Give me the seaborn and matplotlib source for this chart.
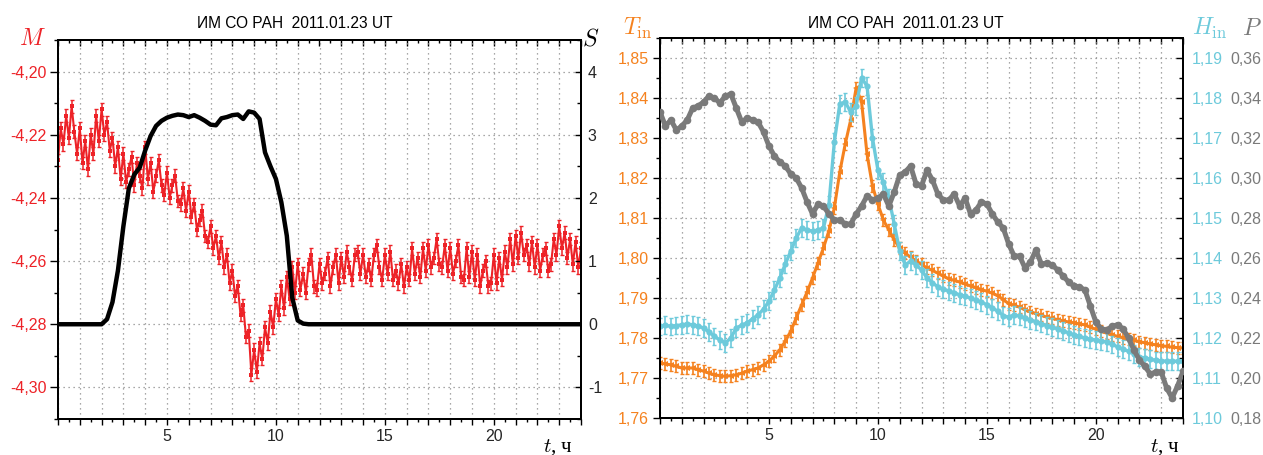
"""
Two panels, ИМ СО РАН 2011.01.23 UT:
left  - M (red, with error bars) and S (black) vs time,
right - T_in (orange), H_in (cyan) and P (gray) vs time.
Output: out.png
"""

import numpy as np
import matplotlib
matplotlib.use('Agg')
import matplotlib.pyplot as plt
from matplotlib.ticker import MultipleLocator, FuncFormatter
import seaborn as sns

# ── Colours ───────────────────────────────────────────────────
RED    = '#ED2227'
ORANGE = '#F5821F'
CYAN   = '#6DCADB'
GRAY   = '#7A7A7A'
GRID   = '#8C8C8C'

TITLE = 'ИМ СО РАН  2011.01.23 UT'

# ── Data ──────────────────────────────────────────────────────
# M sampled every 1/8 h, one row per hour
m_values = [
    -4.228, -4.218, -4.223, -4.214, -4.221, -4.211, -4.219, -4.226,
    -4.218, -4.229, -4.222, -4.231, -4.220, -4.226, -4.214, -4.222,
    -4.212, -4.220, -4.216, -4.225, -4.221, -4.230, -4.224, -4.234,
    -4.226, -4.235, -4.231, -4.227, -4.236, -4.229, -4.233, -4.237,
    -4.224, -4.234, -4.229, -4.238, -4.233, -4.228, -4.236, -4.239,
    -4.232, -4.240, -4.236, -4.233, -4.241, -4.242, -4.237, -4.244,
    -4.238, -4.246, -4.242, -4.250, -4.247, -4.244, -4.252, -4.254,
    -4.249, -4.256, -4.252, -4.259, -4.254, -4.262, -4.258, -4.267,
    -4.263, -4.271, -4.268, -4.277, -4.274, -4.284, -4.282, -4.296,
    -4.288, -4.295, -4.286, -4.291, -4.281, -4.286, -4.276, -4.281,
    -4.272, -4.277, -4.268, -4.275, -4.265, -4.272, -4.262, -4.270,
    -4.261, -4.269, -4.264, -4.270, -4.261, -4.258, -4.268, -4.269,
    -4.261, -4.267, -4.264, -4.259, -4.268, -4.262, -4.258, -4.267,
    -4.259, -4.265, -4.257, -4.262, -4.266, -4.258, -4.257, -4.264,
    -4.258, -4.265, -4.261, -4.266, -4.258, -4.255, -4.262, -4.266,
    -4.258, -4.264, -4.257, -4.266, -4.263, -4.267, -4.261, -4.268,
    -4.262, -4.266, -4.256, -4.264, -4.259, -4.265, -4.256, -4.263,
    -4.255, -4.262, -4.259, -4.253, -4.261, -4.262, -4.255, -4.263,
    -4.256, -4.264, -4.260, -4.255, -4.265, -4.266, -4.256, -4.265,
    -4.257, -4.266, -4.258, -4.268, -4.263, -4.260, -4.268, -4.267,
    -4.258, -4.267, -4.259, -4.266, -4.257, -4.262, -4.253, -4.261,
    -4.252, -4.259, -4.251, -4.258, -4.255, -4.261, -4.254, -4.262,
    -4.255, -4.263, -4.258, -4.256, -4.263, -4.261, -4.253, -4.258,
    -4.249, -4.256, -4.251, -4.259, -4.253, -4.261, -4.254, -4.262,
    -4.256,
]
m_err = 0.002

# the other series sampled every 1/4 h, one row per hour
s_values = [
    0.00, 0.00, 0.00, 0.00,
    0.00, 0.00, 0.00, 0.00,
    0.00, 0.08, 0.35, 0.85,
    1.55, 2.15, 2.37, 2.48,
    2.75, 2.98, 3.14, 3.22,
    3.27, 3.30, 3.32, 3.31,
    3.28, 3.31, 3.27, 3.22,
    3.16, 3.15, 3.26, 3.28,
    3.31, 3.32, 3.25, 3.37,
    3.35, 3.25, 2.72, 2.50,
    2.30, 1.93, 1.40, 0.42,
    0.06, 0.01, 0.00, 0.00,
    0.00, 0.00, 0.00, 0.00,
    0.00, 0.00, 0.00, 0.00,
    0.00, 0.00, 0.00, 0.00,
    0.00, 0.00, 0.00, 0.00,
    0.00, 0.00, 0.00, 0.00,
    0.00, 0.00, 0.00, 0.00,
    0.00, 0.00, 0.00, 0.00,
    0.00, 0.00, 0.00, 0.00,
    0.00, 0.00, 0.00, 0.00,
    0.00, 0.00, 0.00, 0.00,
    0.00, 0.00, 0.00, 0.00,
    0.00, 0.00, 0.00, 0.00,
    0.00,
]

t_in_values = [
    1.7738, 1.7735, 1.7733, 1.7729,
    1.7725, 1.7725, 1.7725, 1.7721,
    1.7717, 1.7712, 1.7708, 1.7706,
    1.7704, 1.7706, 1.7708, 1.7712,
    1.7717, 1.7721, 1.7725, 1.7733,
    1.7742, 1.7755, 1.7771, 1.7792,
    1.7817, 1.7850, 1.7883, 1.7915,
    1.7950, 1.7988, 1.8025, 1.8068,
    1.8125, 1.8215, 1.8285, 1.8345,
    1.8425, 1.8390, 1.8260, 1.8180,
    1.8135, 1.8095, 1.8070, 1.8045,
    1.8025, 1.8012, 1.8002, 1.7993,
    1.7984, 1.7975, 1.7969, 1.7962,
    1.7955, 1.7948, 1.7944, 1.7940,
    1.7935, 1.7930, 1.7926, 1.7921,
    1.7917, 1.7912, 1.7906, 1.7896,
    1.7886, 1.7882, 1.7877, 1.7871,
    1.7866, 1.7861, 1.7857, 1.7852,
    1.7849, 1.7846, 1.7843, 1.7840,
    1.7838, 1.7835, 1.7833, 1.7827,
    1.7822, 1.7817, 1.7812, 1.7808,
    1.7804, 1.7801, 1.7797, 1.7794,
    1.7791, 1.7788, 1.7785, 1.7783,
    1.7781, 1.7779, 1.7777, 1.7776,
    1.7775,
]
t_in_err = 0.0015

h_in_values = [
    1.1229, 1.1232, 1.1229, 1.1231,
    1.1233, 1.1235, 1.1233, 1.1230,
    1.1225, 1.1215, 1.1204, 1.1195,
    1.1188, 1.1200, 1.1225, 1.1232,
    1.1238, 1.1248, 1.1258, 1.1272,
    1.1292, 1.1320, 1.1350, 1.1385,
    1.1417, 1.1450, 1.1475, 1.1470,
    1.1467, 1.1470, 1.1475, 1.1533,
    1.1690, 1.1785, 1.1790, 1.1765,
    1.1780, 1.1850, 1.1830, 1.1700,
    1.1620, 1.1590, 1.1550, 1.1485,
    1.1417, 1.1383, 1.1392, 1.1383,
    1.1370, 1.1350, 1.1338, 1.1328,
    1.1322, 1.1318, 1.1313, 1.1308,
    1.1304, 1.1300, 1.1295, 1.1290,
    1.1283, 1.1275, 1.1267, 1.1256,
    1.1252, 1.1258, 1.1255, 1.1250,
    1.1245, 1.1241, 1.1236, 1.1231,
    1.1227, 1.1223, 1.1218, 1.1213,
    1.1208, 1.1204, 1.1200, 1.1197,
    1.1195, 1.1193, 1.1190, 1.1184,
    1.1178, 1.1172, 1.1167, 1.1160,
    1.1153, 1.1150, 1.1147, 1.1144,
    1.1143, 1.1142, 1.1142, 1.1142,
    1.1142,
]
h_in_err = 0.0022

p_values = [
    0.333, 0.326, 0.329, 0.324,
    0.326, 0.329, 0.335, 0.336,
    0.338, 0.341, 0.340, 0.3375,
    0.341, 0.342, 0.335, 0.328,
    0.330, 0.329, 0.328, 0.323,
    0.316, 0.311, 0.308, 0.306,
    0.302, 0.300, 0.295, 0.288,
    0.282, 0.287, 0.286, 0.282,
    0.279, 0.279, 0.277, 0.277,
    0.282, 0.286, 0.291, 0.289,
    0.290, 0.292, 0.286, 0.293,
    0.3015, 0.303, 0.306, 0.297,
    0.296, 0.304, 0.299, 0.292,
    0.289, 0.289, 0.292, 0.286,
    0.290, 0.282, 0.284, 0.288,
    0.287, 0.282, 0.278, 0.275,
    0.267, 0.261, 0.261, 0.255,
    0.258, 0.264, 0.257, 0.2575,
    0.2565, 0.254, 0.251, 0.248,
    0.246, 0.2455, 0.244, 0.236,
    0.228, 0.2245, 0.224, 0.2258,
    0.2267, 0.2245, 0.220, 0.214,
    0.209, 0.2058, 0.202, 0.203,
    0.203, 0.195, 0.190, 0.196,
    0.2033,
]

t_fine   = np.linspace(0, 24, len(m_values))     # hours, M sampling
t_coarse = np.linspace(0, 24, len(s_values))     # hours, other series

# ── Style ─────────────────────────────────────────────────────
sns.set_style('ticks')
plt.rcParams['font.family'] = ['Liberation Sans', 'DejaVu Sans']
plt.rcParams['mathtext.fontset'] = 'cm'
plt.rcParams['axes.linewidth'] = 1.4

W, H = 1263, 455
fig = plt.figure(figsize=(W / 100, H / 100), dpi=100, facecolor='white')


def px(x, y):
    return x / W, 1 - y / H


comma2 = FuncFormatter(lambda v, p: f'{v:.2f}'.replace('.', ','))
hours = FuncFormatter(lambda v, p: f'{v:.0f}' if round(v) % 5 == 0 and 0 < v < 24 else '')


def style_time_axis(ax):
    ax.set_xlim(0, 24)
    ax.xaxis.set_major_locator(MultipleLocator(1))
    ax.xaxis.set_minor_locator(MultipleLocator(0.5))
    ax.xaxis.set_major_formatter(hours)
    ax.tick_params(axis='x', which='major', direction='out', length=4.5,
                   width=1.0, labelsize=11.5, pad=2.5, color='black')
    ax.tick_params(axis='x', which='minor', direction='out', length=2.5,
                   width=1.0, color='black')
    top = ax.secondary_xaxis('top')
    top.xaxis.set_major_locator(MultipleLocator(1))
    top.xaxis.set_minor_locator(MultipleLocator(0.5))
    top.tick_params(axis='x', which='major', direction='in', length=4.5,
                    width=1.0, labeltop=False, color='black')
    top.tick_params(axis='x', which='minor', direction='in', length=2.5,
                    width=1.0, color='black')
    top.spines['top'].set_linewidth(1.4)
    ax.grid(True, which='major', color=GRID, linestyle=(0, (1, 3)), linewidth=0.9)
    for sp in ax.spines.values():
        sp.set_color('black')
        sp.set_linewidth(1.4)
    ax.set_xlabel('')
    ax.set_ylabel('')


# ── Left panel: M and S ───────────────────────────────────────
ax_m = fig.add_axes([58 / W, 1 - 419 / H, 523 / W, 379 / H])
ax_m.set_facecolor('white')
ax_m.errorbar(t_fine, m_values, yerr=m_err, fmt='none', ecolor=RED,
              elinewidth=1.1, capsize=1.6, capthick=1.0)
sns.lineplot(x=t_fine, y=m_values, ax=ax_m, color=RED, linewidth=1.5,
             marker='s', markersize=3.2, markeredgewidth=0)
style_time_axis(ax_m)
ax_m.set_ylim(-4.31, -4.19)
ax_m.yaxis.set_major_locator(MultipleLocator(0.02))
ax_m.yaxis.set_minor_locator(MultipleLocator(0.01))
ax_m.yaxis.set_major_formatter(comma2)
ax_m.tick_params(axis='y', which='major', direction='out', length=5.5, width=1.0,
                 labelsize=11.5, labelcolor=RED, pad=2.5, color='black')
ax_m.tick_params(axis='y', which='minor', direction='out', length=3, width=1.0,
                 color='black')

ax_s = ax_m.twinx()
sns.lineplot(x=t_coarse, y=s_values, ax=ax_s, color='black', linewidth=3.2)
ax_s.set_ylim(-1.5, 4.5)
ax_s.yaxis.set_major_locator(MultipleLocator(1))
ax_s.yaxis.set_minor_locator(MultipleLocator(0.5))
ax_s.yaxis.set_major_formatter(FuncFormatter(lambda v, p: f'{v:.0f}'))
ax_s.tick_params(axis='y', which='major', direction='in', length=4, width=1.0,
                 labelsize=11.5, pad=5, color='black')
ax_s.tick_params(axis='y', which='minor', direction='in', length=3, width=1.0,
                 color='black')
ax_s.set_ylabel('')
for sp in ax_s.spines.values():
    sp.set_color('black')
    sp.set_linewidth(1.4)

# ── Right panel: T_in, H_in and P ─────────────────────────────
ax_t = fig.add_axes([660 / W, 1 - 418 / H, 523 / W, 380 / H])
ax_t.set_facecolor('white')
ax_t.errorbar(t_coarse, t_in_values, yerr=t_in_err, fmt='none', ecolor=ORANGE,
              elinewidth=1.2, capsize=1.6, capthick=1.0)
sns.lineplot(x=t_coarse, y=t_in_values, ax=ax_t, color=ORANGE, linewidth=2.2,
             marker='<', markersize=4.5, markeredgewidth=0)
style_time_axis(ax_t)
ax_t.set_ylim(1.76, 1.855)
ax_t.yaxis.set_major_locator(MultipleLocator(0.01))
ax_t.yaxis.set_minor_locator(MultipleLocator(0.005))
ax_t.yaxis.set_major_formatter(comma2)
ax_t.tick_params(axis='y', which='major', direction='out', length=5, width=1.0,
                 labelsize=11.5, labelcolor=ORANGE, pad=3, color='black')
ax_t.tick_params(axis='y', which='minor', direction='out', length=3, width=1.0,
                 color='black')

ax_h = ax_t.twinx()
ax_h.errorbar(t_coarse, h_in_values, yerr=h_in_err, fmt='none', ecolor=CYAN,
              elinewidth=1.2, capsize=1.6, capthick=1.0)
sns.lineplot(x=t_coarse, y=h_in_values, ax=ax_h, color=CYAN, linewidth=2.4,
             marker='o', markersize=4.5, markeredgewidth=0)
ax_h.set_ylim(1.10, 1.195)
ax_h.yaxis.set_major_locator(MultipleLocator(0.01))
ax_h.yaxis.set_minor_locator(MultipleLocator(0.005))
ax_h.yaxis.set_major_formatter(comma2)
ax_h.tick_params(axis='y', which='major', direction='in', length=5, width=1.0,
                 labelsize=11.5, labelcolor=CYAN, pad=6, color='black')
ax_h.tick_params(axis='y', which='minor', direction='in', length=3, width=1.0,
                 color='black')
ax_h.set_ylabel('')
for sp in ax_h.spines.values():
    sp.set_color('black')
    sp.set_linewidth(1.4)

ax_p = ax_t.twinx()
sns.lineplot(x=t_coarse, y=p_values, ax=ax_p, color=GRAY, linewidth=3.6,
             marker='o', markersize=5.5, markeredgewidth=0)
ax_p.set_ylim(0.18, 0.37)
ax_p.yaxis.set_major_locator(MultipleLocator(0.02))
ax_p.yaxis.set_major_formatter(comma2)
ax_p.tick_params(axis='y', which='both', length=0, labelsize=11.5,
                 labelcolor=GRAY, pad=34)
ax_p.set_ylabel('')
for sp in ax_p.spines.values():
    sp.set_visible(False)

# ── Titles and axis names ─────────────────────────────────────
fig.text(*px(197, 28), TITLE, ha='left', va='baseline', fontsize=11.2, color='black')
fig.text(*px(808, 28), TITLE, ha='left', va='baseline', fontsize=11.2, color='black')

fig.text(*px(32, 45), '$M$', ha='center', va='baseline', fontsize=17, color=RED)
fig.text(*px(591, 45), '$S$', ha='center', va='baseline', fontsize=17, color='black')
fig.text(*px(623, 35), r'$T_{\rm in}$', ha='left', va='baseline', fontsize=17, color=ORANGE)
fig.text(*px(1192, 35), r'$H_{\rm in}$', ha='left', va='baseline', fontsize=17, color=CYAN)
fig.text(*px(1242, 35), '$P$', ha='left', va='baseline', fontsize=17, color=GRAY)

for x0 in (543, 1150):
    fig.text(*px(x0, 452), '$t$, ч', ha='left', va='baseline', fontsize=15,
             color='black', family=['Liberation Serif', 'DejaVu Serif'])

plt.savefig('out.png', dpi=100, facecolor='white')
print('Saved -> out.png')
